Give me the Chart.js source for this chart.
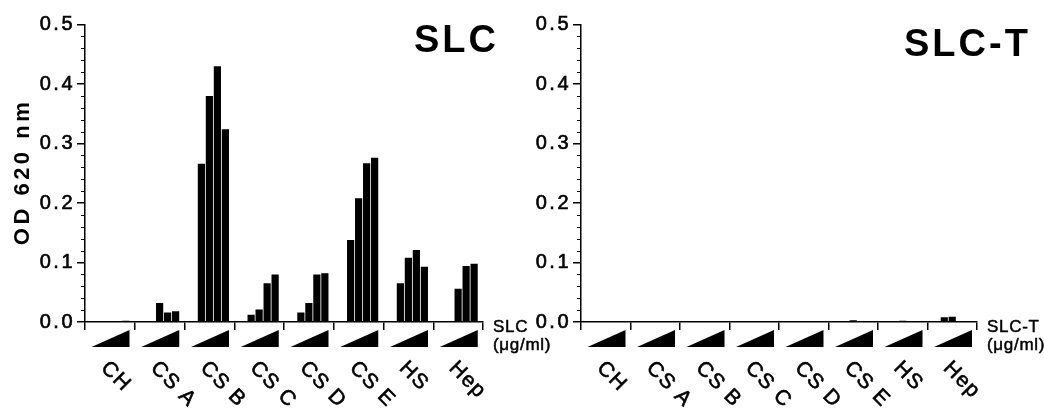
<!DOCTYPE html>
<html><head><meta charset="utf-8">
<script src="https://cdn.jsdelivr.net/npm/chart.js@4.4.1/dist/chart.umd.min.js"></script>
<style>
html,body{margin:0;padding:0;background:#fff;width:1044px;height:408px;overflow:hidden;}
#cl{position:absolute;left:0;top:0;}
#cr{position:absolute;left:520px;top:0;}
</style></head><body>
<canvas id="cl" width="560" height="408"></canvas>
<canvas id="cr" width="524" height="408"></canvas>
<script>
const categories = ['CH','CS A','CS B','CS C','CS D','CS E','HS','Hep'];
const yMajorTicks = [0, 0.1, 0.2, 0.3, 0.4, 0.5];
const yMinorTicks = [0.02,0.04,0.06,0.08,0.12,0.14,0.16,0.18,0.22,0.24,0.26,0.28,0.32,0.34,0.36,0.38,0.42,0.44,0.46,0.48];

// SLC binding, five increasing doses per glycosaminoglycan
const slcDose0 = [0, 0, 0, 0, 0, 0, 0, 0];
const slcDose1 = [0, 0, 0.266, 0.012, 0.016, 0.138, 0.065, 0];
const slcDose2 = [0, 0.032, 0.380, 0.021, 0.032, 0.208, 0.108, 0.056];
const slcDose3 = [0, 0.016, 0.430, 0.065, 0.080, 0.267, 0.121, 0.094];
const slcDose4 = [0.002, 0.018, 0.324, 0.080, 0.082, 0.276, 0.093, 0.098];

// SLC-T binding
const slctDose0 = [0, 0, 0, 0, 0, 0, 0, 0];
const slctDose1 = [0, 0, 0, 0, 0, 0, 0, 0.008];
const slctDose2 = [0, 0, 0, 0, 0, 0.003, 0.002, 0.009];
const slctDose3 = [0, 0, 0, 0, 0, 0, 0, 0];
const slctDose4 = [0, 0, 0, 0, 0, 0, 0, 0];

const FONT = '"Liberation Sans", Arial, sans-serif';

function heavyText(ctx, t, x, y, sw){
  ctx.lineWidth = sw; ctx.lineJoin = 'round';
  ctx.strokeText(t, x, y);
  ctx.fillText(t, x, y);
}

function makeChart(id, doses, cfg){
  const deco = {
    id: 'deco',
    beforeDraw(chart){ chart.ctx.letterSpacing = '2.5px'; },
    afterDraw(chart){
      const ctx = chart.ctx, x = chart.scales.x, y = chart.scales.y;
      ctx.save();
      ctx.fillStyle = '#000'; ctx.strokeStyle = '#000';
      // minor ticks
      ctx.lineWidth = 1;
      yMinorTicks.forEach(v => {
        const py = Math.round(y.getPixelForValue(v)) + 0.5;
        ctx.beginPath(); ctx.moveTo(x.left - 4, py); ctx.lineTo(x.left, py); ctx.stroke();
      });
      // dose wedges
      const w = (x.right - x.left) / categories.length;
      categories.forEach((c, i) => {
        const s = x.getPixelForValue(i) - w / 2;
        ctx.beginPath();
        ctx.moveTo(s + 6.5, y.bottom + 25);
        ctx.lineTo(s + 44.5, y.bottom + 25);
        ctx.lineTo(s + 44.5, y.bottom + 8);
        ctx.closePath(); ctx.fill();
      });
      // rotated category labels
      ctx.font = '21px ' + FONT;
      ctx.letterSpacing = '1.5px';
      ctx.textAlign = 'left'; ctx.textBaseline = 'alphabetic';
      categories.forEach((c, i) => {
        const s = x.getPixelForValue(i) - w / 2;
        ctx.save();
        ctx.translate(s + 15, y.bottom + 47);
        ctx.rotate(Math.PI / 4);
        heavyText(ctx, c, 0, 0, 0.6);
        ctx.restore();
      });
      // unit label
      ctx.font = '17px ' + FONT;
      ctx.letterSpacing = '0.7px';
      heavyText(ctx, cfg.unit, x.right + 10, y.bottom + 10, 0.5);
      heavyText(ctx, '(\u03bcg/ml)', x.right + 10, y.bottom + 28, 0.5);
      // panel title
      ctx.font = 'bold 38px ' + FONT;
      ctx.letterSpacing = '3px';
      ctx.fillText(cfg.title, cfg.titleX, cfg.titleY);
      // y title
      if (cfg.yTitle) {
        ctx.font = 'bold 22px ' + FONT;
        ctx.letterSpacing = '3.5px';
        ctx.save();
        ctx.translate(29, 172);
        ctx.rotate(-Math.PI / 2);
        ctx.textAlign = 'center';
        ctx.fillText(cfg.yTitle, 0, 0);
        ctx.restore();
      }
      ctx.restore();
    }
  };
  return new Chart(document.getElementById(id), {
    type: 'bar',
    data: {
      labels: categories,
      datasets: doses.map((d, i) => ({
        label: 'dose ' + i, data: d, backgroundColor: '#000', borderWidth: 0,
        barPercentage: 0.9, categoryPercentage: 0.804
      }))
    },
    options: {
      responsive: false, animation: false,
      layout: { padding: { top: 24.5, right: cfg.padRight, bottom: 0, left: 0 } },
      plugins: { legend: { display: false }, tooltip: { enabled: false } },
      scales: {
        x: {
          type: 'category', offset: true,
          grid: { offset: true, drawOnChartArea: false, drawTicks: true, tickLength: 8, color: '#000', lineWidth: 1.5 },
          border: { color: '#000', width: 1.5 },
          ticks: { display: false },
          afterFit: s => { s.height = 86; }
        },
        y: {
          min: 0, max: 0.5,
          afterBuildTicks: s => { s.ticks = yMajorTicks.map(v => ({ value: v })); },
          ticks: { callback: v => v.toFixed(1), font: { family: FONT, size: 20 }, color: '#000', padding: 2,
                   textStrokeColor: '#000', textStrokeWidth: 0.6 },
          grid: { drawOnChartArea: false, tickLength: 8, color: '#000', lineWidth: 1.5 },
          border: { color: '#000', width: 1.5 },
          afterFit: s => { s.width = cfg.axisWidth; }
        }
      }
    },
    plugins: [deco]
  });
}

makeChart('cl', [slcDose0, slcDose1, slcDose2, slcDose3, slcDose4],
  { axisWidth: 85, padRight: 77, title: 'SLC', titleX: 414, titleY: 52, unit: 'SLC', yTitle: 'OD 620 nm' });
makeChart('cr', [slctDose0, slctDose1, slctDose2, slctDose3, slctDose4],
  { axisWidth: 61, padRight: 67, title: 'SLC-T', titleX: 384, titleY: 56, unit: 'SLC-T' });
</script>
</body></html>
